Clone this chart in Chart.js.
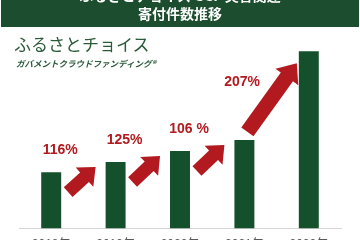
<!DOCTYPE html>
<html lang="ja">
<head>
<meta charset="utf-8">
<title>寄付件数推移</title>
<script src="https://cdn.jsdelivr.net/npm/chart.js@4/dist/chart.umd.min.js"></script>
<style>
  html, body { margin: 0; padding: 0; background: #fff; }
  body { width: 360px; height: 240px; overflow: hidden; position: relative; }
  #band {
    position: absolute; left: 1px; top: 0; width: 358px; height: 27px;
    background: #1b4d2e; color: #fff; text-align: center;
    font-family: 'Noto Sans CJK JP', sans-serif; font-weight: bold;
  }
  #band .l1 { position: absolute; left: 0; right: 0; top: -13px; font-size: 14px; line-height: 16px; }
  #band .l2 { position: absolute; left: 0; right: 0; top: 4px; font-size: 14px; line-height: 18px; }
  #logo {
    position: absolute; left: 14px; top: 31px; color: #2a5a3a;
    font-family: 'Noto Sans CJK JP', sans-serif; font-size: 17px;
  }
  #sub {
    position: absolute; left: 16px; top: 57px; color: #2a5a3a;
    font-family: 'Noto Sans CJK JP', sans-serif; font-size: 8.5px; font-weight: bold; font-style: italic;
  }
  #chart { position: absolute; left: 0; top: 0; }
</style>
</head>
<body>
<canvas id="chart" width="360" height="264"></canvas>
<div id="band">
  <div class="l1">ふるさとチョイス GCF 災害関連</div>
  <div class="l2">寄付件数推移</div>
</div>
<div id="logo">ふるさとチョイス</div>
<div id="sub">ガバメントクラウドファンディング®</div>
<script>
// data (relative counts, axis hidden)
const years  = ['2018年', '2019年', '2020年', '2021年', '2022年'];
const counts = [560, 660, 770, 880, 1760];
const growth = ['116%', '125%', '106 %', '207%'];

const GREEN = '#15502d';
const RED   = '#b21a20';

function drawArrow(ctx, x0, y0, x1, y1, shaftW, headW, headL) {
  const dx = x1 - x0, dy = y1 - y0;
  const len = Math.hypot(dx, dy);
  const ux = dx / len, uy = dy / len;
  const px = -uy, py = ux;
  const bx = x1 - ux * headL, by = y1 - uy * headL;
  ctx.beginPath();
  ctx.moveTo(x0 + px * shaftW / 2, y0 + py * shaftW / 2);
  ctx.lineTo(bx + px * shaftW / 2, by + py * shaftW / 2);
  ctx.lineTo(bx + px * headW / 2, by + py * headW / 2);
  ctx.lineTo(x1, y1);
  ctx.lineTo(bx - px * headW / 2, by - py * headW / 2);
  ctx.lineTo(bx - px * shaftW / 2, by - py * shaftW / 2);
  ctx.lineTo(x0 - px * shaftW / 2, y0 - py * shaftW / 2);
  ctx.closePath();
  ctx.fill();
}

// red growth arrows + percentage labels between the bars
const growthArrows = {
  id: 'growthArrows',
  afterDatasetsDraw(chart) {
    const ctx = chart.ctx;
    const bars = chart.getDatasetMeta(0).data;
    ctx.save();
    ctx.fillStyle = RED;
    ctx.font = 'bold 14px "Liberation Sans", Arial, sans-serif';
    ctx.textAlign = 'center';
    ctx.textBaseline = 'middle';
    growth.forEach((txt, i) => {
      const a = bars[i], b = bars[i + 1];
      const aw = a.width / 2, bw = b.width / 2;
      let tail, tip, label;
      if (i < growth.length - 1) {
        tail = [a.x + aw + 7, a.y + 20];
        tip  = [b.x - bw - 10, b.y + 5];
        label = [tail[0] - 8, tail[1] - 42];
        drawArrow(ctx, tail[0], tail[1], tip[0], tip[1], 13, 26, 15);
      } else {
        tail = [a.x + 3, a.y - 8];
        tip  = [b.x - bw - 2, b.y + 12];
        label = [(tail[0] + tip[0]) / 2 - 30, (tail[1] + tip[1]) / 2 - 15];
        drawArrow(ctx, tail[0], tail[1], tip[0], tip[1], 15, 28, 17);
      }
      ctx.fillText(txt, label[0], label[1]);
    });
    ctx.restore();
  }
};

new Chart(document.getElementById('chart'), {
  type: 'bar',
  data: {
    labels: years,
    datasets: [{
      data: counts,
      backgroundColor: GREEN,
      borderWidth: 0,
      barPercentage: 0.31,
      categoryPercentage: 1,
    }],
  },
  options: {
    responsive: false,
    animation: false,
    devicePixelRatio: 1,
    layout: { padding: { left: 19, right: 19, top: 30, bottom: 3 } },
    plugins: {
      legend: { display: false },
      tooltip: { enabled: false },
    },
    scales: {
      x: {
        grid: { display: false, drawTicks: false },
        border: { display: true, color: '#d6d6d6', width: 1 },
        ticks: {
          color: '#595959',
          padding: 9,
          font: { size: 12, family: '"Liberation Sans", "Noto Sans CJK JP", sans-serif' },
        },
      },
      y: {
        display: false,
        min: 0,
        max: 1970,
      },
    },
  },
  plugins: [growthArrows],
});
</script>
</body>
</html>
